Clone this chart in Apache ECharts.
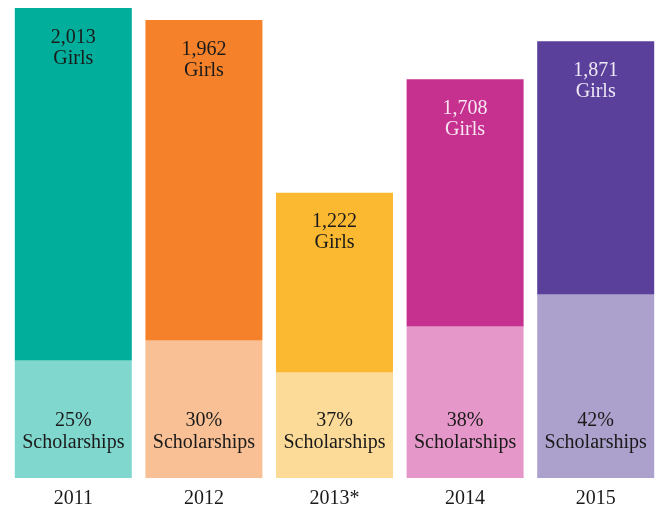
<!DOCTYPE html>
<html>
<head>
<meta charset="utf-8">
<script src="https://cdn.jsdelivr.net/npm/echarts@6/dist/echarts.min.js"></script>
<style>
  html, body { margin: 0; padding: 0; background: #fff; }
  #chart { width: 661px; height: 506px; }
</style>
</head>
<body>
<div id="chart"></div>
<script>
const years = ["2011", "2012", "2013*", "2014", "2015"];
const girls = [2013, 1962, 1222, 1708, 1871];
const scholarshipPct = [25, 30, 37, 38, 42];

// colours per year: darker top part, lighter scholarship part
const topColors = ["#00ae9b", "#f5822a", "#fbb931", "#c6308f", "#5a409a"];
const bottomColors = ["#80d7ce", "#f8c094", "#fcdb98", "#e497c8", "#aca0cc"];
const topLabelColors = ["#1a1a1a", "#1a1a1a", "#1a1a1a", "#f8e6f2", "#ece8f6"];

const scholarships = girls.map((g, i) => g * scholarshipPct[i] / 100);
const rest = girls.map((g, i) => g - scholarships[i]);

const fmt = (n) => n.toLocaleString("en-US");

const myChart = echarts.init(document.getElementById("chart"));
const option = {
  animation: false,
  grid: {
    left: 8, right: 0, top: 8, bottom: 28,
    containLabel: false,
    outerBoundsMode: "none",
  },
  xAxis: {
    type: "category",
    data: years,
    axisLine: { show: false },
    axisTick: { show: false },
    axisLabel: {
      fontFamily: "Liberation Serif",
      fontSize: 20,
      color: "#1a1a1a",
      margin: 11,
    },
  },
  yAxis: {
    type: "value",
    min: 0,
    max: 2013,
    show: false,
  },
  series: [
    {
      type: "bar",
      stack: "total",
      barWidth: 117,
      data: scholarships.map((v, i) => ({
        value: v,
        itemStyle: { color: bottomColors[i] },
      })),
      label: {
        show: true,
        position: "insideBottom",
        distance: 24,
        fontFamily: "Liberation Serif",
        fontSize: 20,
        lineHeight: 22,
        color: "#1a1a1a",
        formatter: (p) => scholarshipPct[p.dataIndex] + "%\nScholarships",
      },
    },
    {
      type: "bar",
      stack: "total",
      barWidth: 117,
      data: rest.map((v, i) => ({
        value: v,
        itemStyle: { color: topColors[i] },
        label: { color: topLabelColors[i] },
      })),
      label: {
        show: true,
        position: "insideTop",
        distance: 19,
        fontFamily: "Liberation Serif",
        fontSize: 20,
        lineHeight: 21,
        formatter: (p) => fmt(girls[p.dataIndex]) + "\nGirls",
      },
    },
  ],
};
myChart.setOption(option);
</script>
</body>
</html>
